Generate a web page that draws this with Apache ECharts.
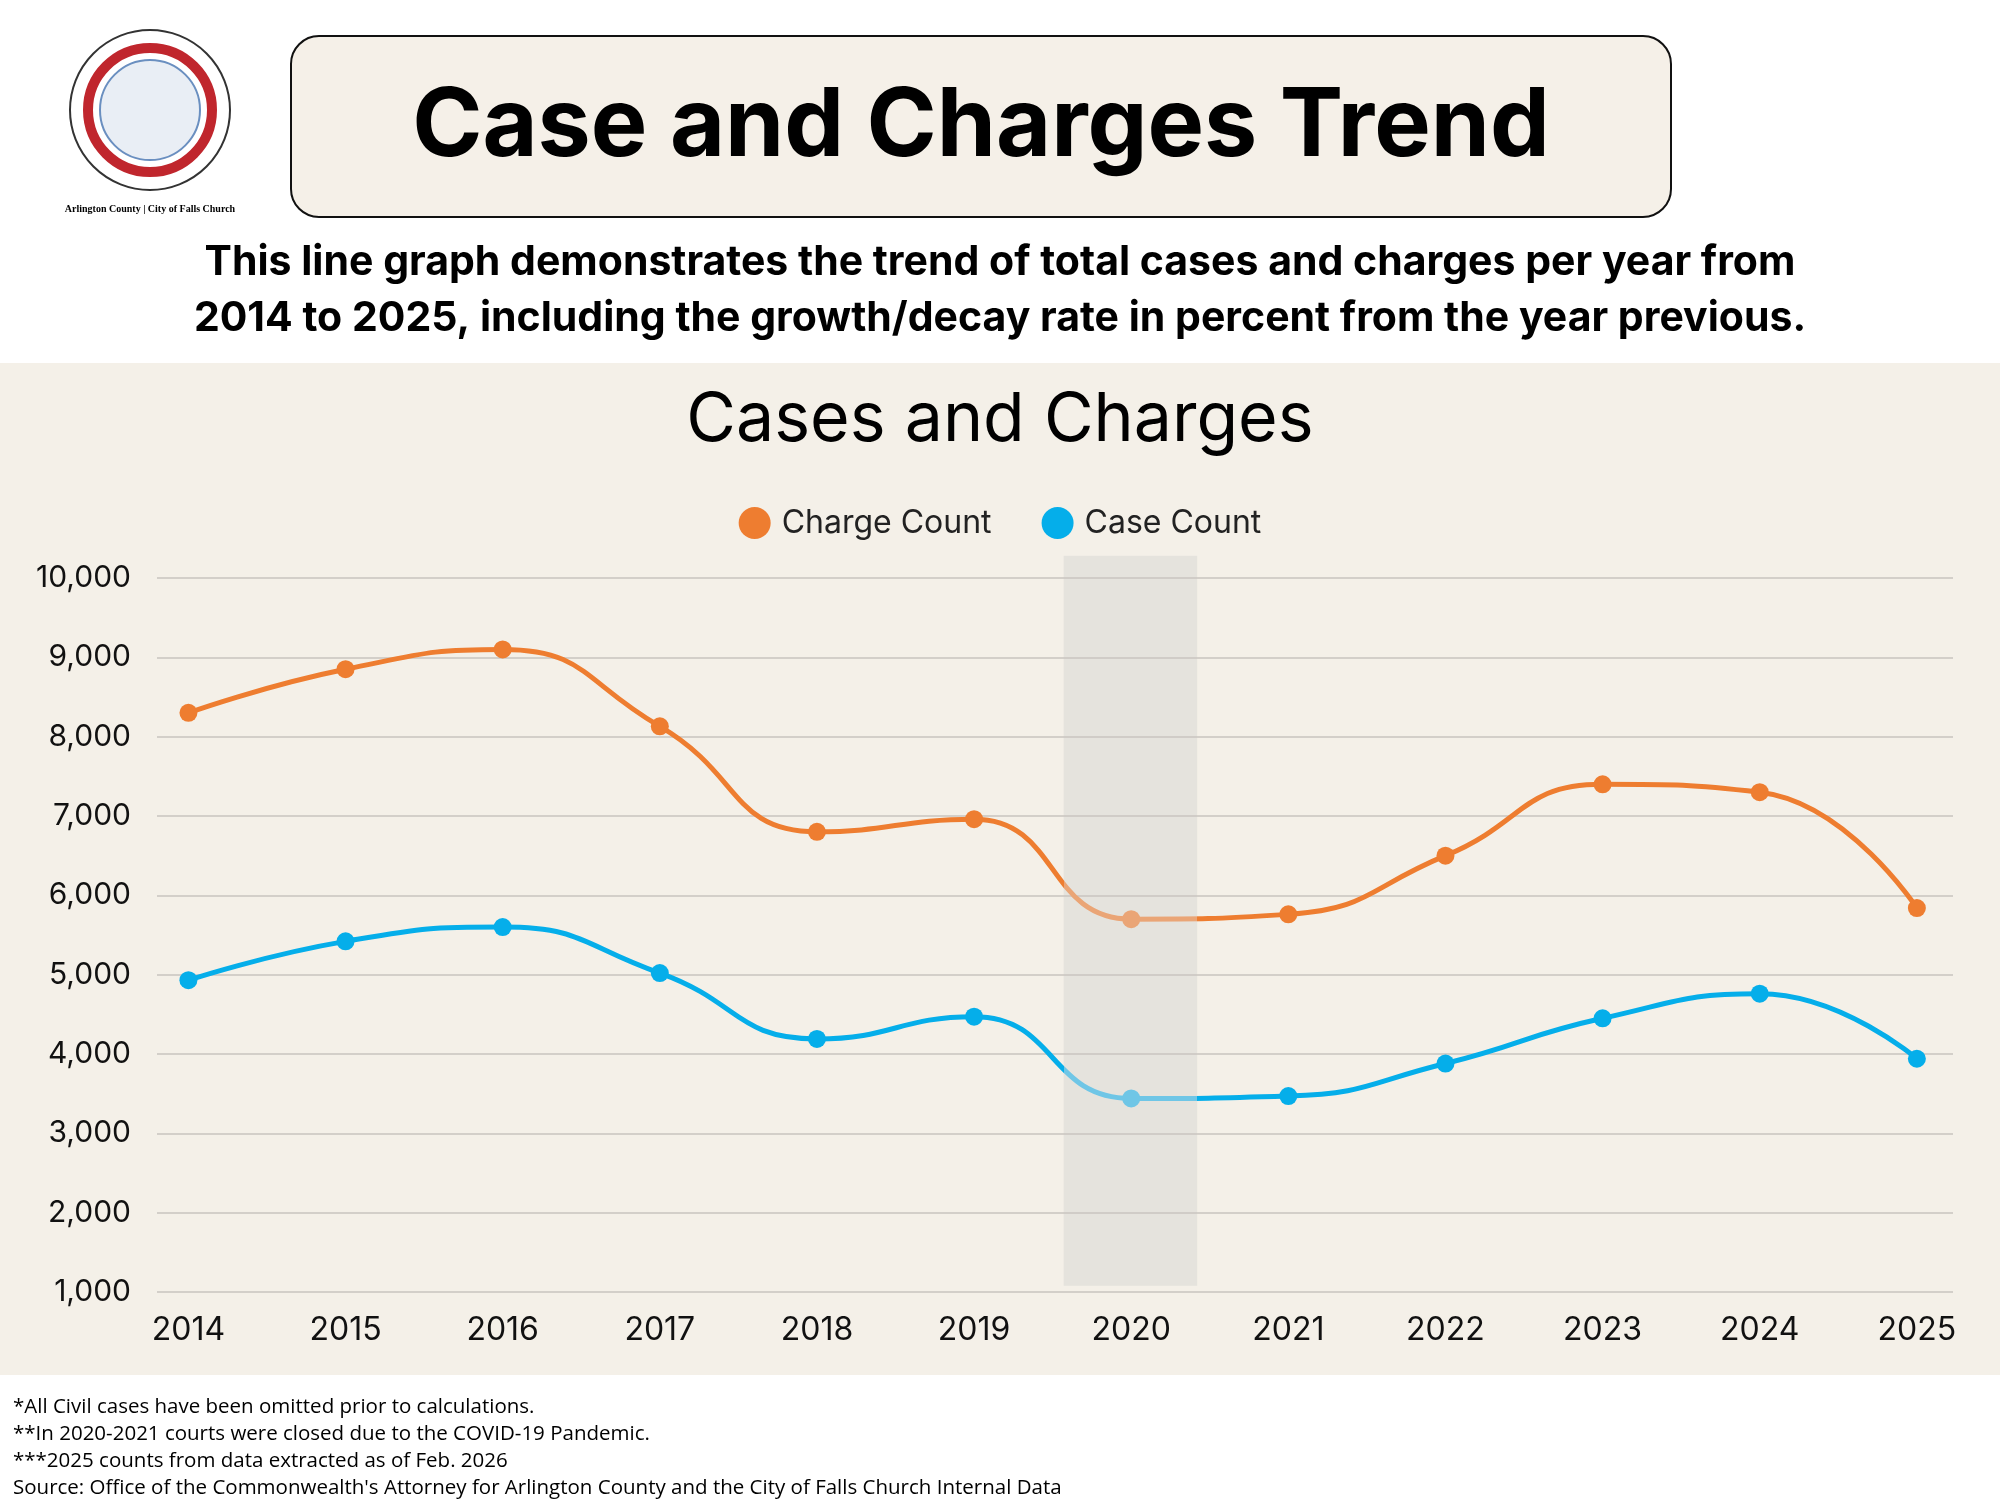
<!DOCTYPE html>
<html><head><meta charset="utf-8">
<script src="https://cdn.jsdelivr.net/npm/echarts@6/dist/echarts.min.js"></script>
<style>html,body{margin:0;padding:0;background:#fff;}#c{width:2000px;height:1500px;}</style>
</head><body><div id="c"></div>
<script>
const years = [2014,2015,2016,2017,2018,2019,2020,2021,2022,2023,2024,2025];
const chargeCount = [8300,8850,9100,8130,6800,6960,5700,5760,6500,7400,7300,5840];
const caseCount = [4930,5420,5600,5020,4190,4470,3440,3470,3880,4450,4760,3940];
const footnotes = [
 "*All Civil cases have been omitted prior to calculations.",
 "**In 2020-2021 courts were closed due to the COVID-19 Pandemic.",
 "***2025 counts from data extracted as of Feb. 2026",
 "Source: Office of the Commonwealth's Attorney for Arlington County and the City of Falls Church Internal Data"
];
const F = 'Inter, "Open Sans", sans-serif';
const chart = echarts.init(document.getElementById('c'));
const graphic = [
 {type:'rect',shape:{x:0,y:363,width:2000,height:1012},style:{fill:'#f4f0e8'},z:-10},
 {type:'rect',shape:{x:291,y:36,width:1380,height:181,r:28},style:{fill:'#f5f0e8',stroke:'#111',lineWidth:2}},
 {type:'text',x:981,y:127,style:{text:'Case and Charges Trend',font:'bold 95px '+F,fill:'#000',align:'center',verticalAlign:'middle'}},
 {type:'text',x:1000,y:263,style:{text:'This line graph demonstrates the trend of total cases and charges per year from',font:'bold 41px '+F,fill:'#000',align:'center',verticalAlign:'middle'}},
 {type:'text',x:1000,y:319,style:{text:'2014 to 2025, including the growth/decay rate in percent from the year previous.',font:'bold 41px '+F,fill:'#000',align:'center',verticalAlign:'middle'}},
 {type:'circle',shape:{cx:150,cy:110,r:80},style:{fill:'#fff',stroke:'#333',lineWidth:2}},
 {type:'circle',shape:{cx:150,cy:110,r:62},style:{fill:'#fff',stroke:'#c0262d',lineWidth:10}},
 {type:'circle',shape:{cx:150,cy:110,r:50},style:{fill:'#e9eef5',stroke:'#6a8fc0',lineWidth:2}},
 {type:'text',x:150,y:209,style:{text:'Arlington County | City of Falls Church',font:'bold 10px "Liberation Serif", serif',fill:'#000',align:'center',verticalAlign:'middle'}}
];
footnotes.forEach((t,i)=>graphic.push({type:'text',x:13,y:1407+i*27,style:{text:t,font:'20.5px "Open Sans", sans-serif',fill:'#000',verticalAlign:'middle'}}));
const toPts = arr => years.map((y,i)=>[y,arr[i]]);
const vm = (idx,col,light) => ({type:'piecewise',show:false,dimension:0,seriesIndex:idx,
 pieces:[{lt:2019.57,color:col},{gte:2019.57,lte:2020.42,color:light},{gt:2020.42,color:col}]});
chart.setOption({
 animation:false,
 graphic,
 title:{text:'Cases and Charges',left:'center',top:382,textStyle:{fontFamily:F,fontSize:68,fontWeight:'normal',color:'#000'}},
 legend:{top:502,left:'center',itemWidth:32,itemHeight:32,itemGap:50,icon:'circle',textStyle:{fontFamily:F,fontSize:32,color:'#222',padding:[0,0,0,6]},data:['Charge Count','Case Count']},
 grid:{left:157,right:47,top:578,bottom:208,containLabel:false},
 visualMap:[vm(0,'#ee7d30','#eaa576'),vm(1,'#05aeea','#6fc6e6')],
 xAxis:{type:'value',min:2013.8,max:2025.23,
  axisLine:{show:false},axisTick:{show:false},splitLine:{show:false},
  axisLabel:{customValues:years,formatter:v=>String(Math.round(v)),fontFamily:F,fontSize:32,color:'#111',margin:22}},
 yAxis:{type:'value',min:1000,max:10000,interval:1000,
  axisLine:{show:false},axisTick:{show:false},
  splitLine:{lineStyle:{color:'#c8c5bf',width:1.5}},
  axisLabel:{formatter:v=>v.toLocaleString('en-US'),fontFamily:F,fontSize:30,color:'#111',margin:26}},
 series:[
  {name:'Charge Count',type:'line',smooth:0.5,data:toPts(chargeCount),symbol:'circle',symbolSize:18,
   lineStyle:{width:5},itemStyle:{color:'#ee7d30'},z:3},
  {name:'Case Count',type:'line',smooth:0.5,data:toPts(caseCount),symbol:'circle',symbolSize:18,
   lineStyle:{width:5},itemStyle:{color:'#05aeea'},z:3}
 ]
});
const p1 = chart.convertToPixel({gridIndex:0},[2019.57,10280]);
const p2 = chart.convertToPixel({gridIndex:0},[2020.42,1080]);
graphic.push({type:'rect',shape:{x:p1[0],y:p1[1],width:p2[0]-p1[0],height:p2[1]-p1[1]},style:{fill:'#e5e3dd'},z:-5});
chart.setOption({graphic});
</script></body></html>
